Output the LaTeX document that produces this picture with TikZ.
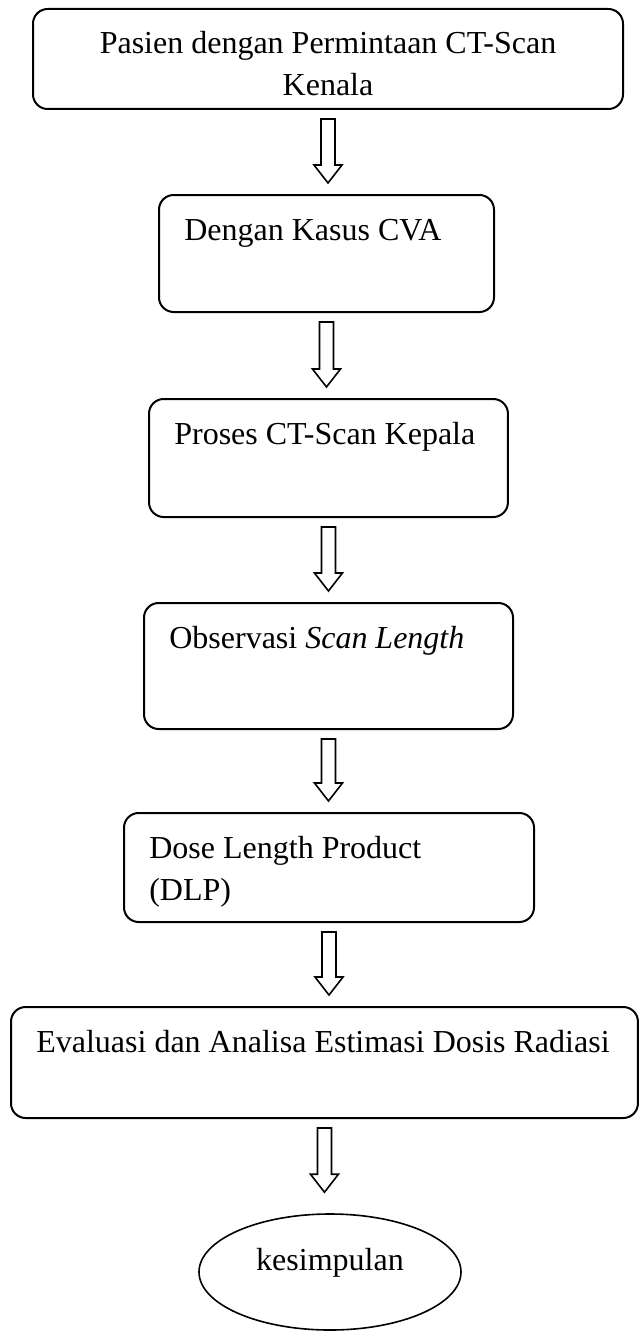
\documentclass[tikz,border=0pt]{standalone}
\usepackage{fontspec}
\setmainfont{Liberation Serif}
\usetikzlibrary{calc,shapes.geometric}

\tikzset{
  flowbox/.style={draw, rounded corners=5.5pt, line width=0.75pt, anchor=north west,
    align=flush left, inner xsep=9.5pt, inner ysep=4pt, text height=12.875pt,
    font=\fontsize{12}{15.75}\selectfont},
  endbox/.style={draw, ellipse, line width=0.6pt, inner sep=0pt,
    minimum width=98.25pt, minimum height=43.5pt, text depth=9.5pt,
    font=\fontsize{12}{15.75}\selectfont},
  arrowline/.style={line width=0.6pt, line join=miter}
}

% hollow block arrow from the bottom of #2 to the top of #3
\newcommand{\flowarrow}[3][4.125pt]{%
  \draw[arrowline] let \p1=(#2.south), \p2=(#3.north) in
    (\x1-2.625pt,\y1-3.375pt) -- (\x1+2.625pt,\y1-3.375pt)
    -- (\x1+2.625pt,\y2+#1+6.75pt) -- (\x1+5.25pt,\y2+#1+6.75pt)
    -- (\x1,\y2+#1) -- (\x1-5.25pt,\y2+#1+6.75pt)
    -- (\x1-2.625pt,\y2+#1+6.75pt) -- cycle;}

\begin{document}
\begin{tikzpicture}[x=0.375pt,y=-0.375pt]
    \useasboundingbox (0,0) rectangle (638,1334);

    \node [flowbox, align=flush center, text width=202.25pt, text depth=16.625pt] (pasien) at (32,8) {Pasien dengan Permintaan CT-Scan\\Kenala};
    \node [flowbox, text width=106.625pt, text depth=23pt] (kasus) at (158,194) {Dengan Kasus CVA};
    \node [flowbox, text width=115.6pt, text depth=23.375pt] (proses) at (148,398) {Proses CT-Scan Kepala};
    \node [flowbox, text width=119.375pt, text depth=26.375pt] (observasi) at (143,602) {Observasi \textit{Scan Length}};
    \node [flowbox, text width=134.75pt, text depth=20pt] (dlp) at (123,812) {Dose Length Product\\(DLP)};
    \node [flowbox, text width=216.1pt, text depth=20.75pt] (evaluasi) at (10,1006) {\mbox{Evaluasi dan Analisa Estimasi Dosis Radiasi}};
    \node [endbox] (kesimpulan) at (330,1272) {kesimpulan};

    \flowarrow{pasien}{kasus}
    \flowarrow{kasus}{proses}
    \flowarrow{proses}{observasi}
    \flowarrow{observasi}{dlp}
    \flowarrow{dlp}{evaluasi}
    \flowarrow[7.875pt]{evaluasi}{kesimpulan}
  \end{tikzpicture}
\end{document}
